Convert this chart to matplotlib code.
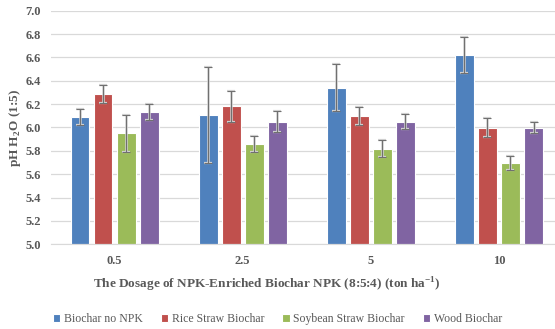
import numpy as np
import matplotlib.pyplot as plt

plt.rcParams['font.family'] = ['Liberation Serif', 'DejaVu Serif']
plt.rcParams['mathtext.fontset'] = 'custom'
plt.rcParams['mathtext.rm'] = 'Liberation Serif:bold'
plt.rcParams['mathtext.bf'] = 'Liberation Serif:bold'

# data
dosage = ['0.5', '2.5', '5', '10']
series = ['Biochar no NPK', 'Rice Straw Biochar', 'Soybean Straw Biochar', 'Wood Biochar']
ph_no_npk = [6.09, 6.11, 6.34, 6.62]
ph_rice = [6.29, 6.18, 6.10, 6.00]
ph_soy = [5.95, 5.86, 5.82, 5.70]
ph_wood = [6.13, 6.05, 6.05, 6.00]
err_no_npk = [0.065, 0.41, 0.20, 0.155]
err_rice = [0.078, 0.135, 0.075, 0.083]
err_soy = [0.16, 0.07, 0.075, 0.06]
err_wood = [0.067, 0.09, 0.063, 0.043]

values = [ph_no_npk, ph_rice, ph_soy, ph_wood]
errors = [err_no_npk, err_rice, err_soy, err_wood]
colors = ['#4f81bd', '#c0504d', '#9bbb59', '#8064a2']

fig = plt.figure(figsize=(5.55, 3.29), dpi=100)
ax = fig.add_axes([50.5 / 555, 84.7 / 329, 512.5 / 555, 233.6 / 329])

x = np.arange(len(dosage))
step = 0.18
width = 0.147
for i in range(len(series)):
    pos = x + (i - 1.5) * step
    ax.bar(pos, np.array(values[i]) - 5.0, width, bottom=5.0, color=colors[i],
           edgecolor='white', linewidth=0.8, label=series[i], zorder=2)
    # light halo then dark line, like the original
    ax.errorbar(pos, values[i], yerr=errors[i], fmt='none', ecolor='#d4d4d4',
                elinewidth=1.8, capsize=3.2, capthick=1.6, zorder=3)
    ax.errorbar(pos, values[i], yerr=errors[i], fmt='none', ecolor='#707070',
                elinewidth=0.8, capsize=3, capthick=0.8, zorder=4)

ax.set_xlim(-0.5, 3.5)
ax.set_ylim(5.0, 7.0)
ax.set_yticks(np.arange(5.0, 7.01, 0.2))
ax.set_yticklabels(['%.1f' % v for v in np.arange(5.0, 7.01, 0.2)])
ax.set_xticks(x)
ax.set_xticklabels(dosage)
ax.tick_params(axis='both', length=0, labelsize=9, labelcolor='#595959')
ax.tick_params(axis='x', pad=8)
ax.tick_params(axis='y', pad=7)
for lab in ax.get_xticklabels() + ax.get_yticklabels():
    lab.set_fontweight('bold')

ax.grid(axis='y', color='#d9d9d9', linewidth=0.9, zorder=0)
for s in ['top', 'right', 'left']:
    ax.spines[s].set_visible(False)
ax.spines['bottom'].set_color('#d9d9d9')

fig.text(15 / 555, 1 - 128 / 329, 'pH H$_2$O (1:5)', fontsize=9.5, fontweight='bold',
         color='#595959', rotation=90, ha='center', va='center')
fig.text(0.48, 1 - 285 / 329, 'The Dosage of NPK-Enriched Biochar NPK (8:5:4) (ton ha$^{-1}$)',
         fontsize=9.5, fontweight='bold', color='#595959', ha='center', va='center')

leg = fig.legend(loc='center', bbox_to_anchor=(0.5, 1 - 319 / 329), ncol=4, frameon=False,
                 fontsize=8.5, handlelength=0.6, handleheight=0.6, handletextpad=0.3,
                 columnspacing=1.55)
for t in leg.get_texts():
    t.set_color('#595959')

fig.savefig('out.png', dpi=100)
